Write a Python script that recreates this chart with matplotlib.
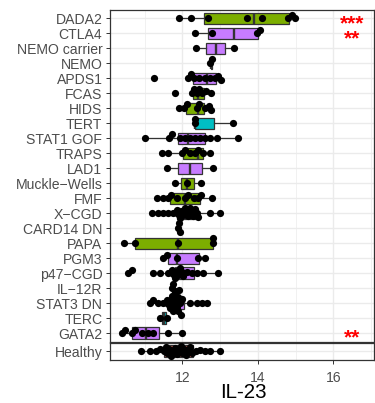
import numpy as np
import matplotlib.pyplot as plt

plt.rcParams['font.family'] = ['Liberation Sans', 'DejaVu Sans']

GREEN = "#7CAE00"
PURPLE = "#C77CFF"
CYAN = "#00BFC4"
RED = "#F8766D"

groups = ["DADA2", "CTLA4", "NEMO carrier", "NEMO", "APDS1", "FCAS", "HIDS",
          "TERT", "STAT1 GOF", "TRAPS", "LAD1", "Muckle\u2212Wells", "FMF",
          "X\u2212CGD", "CARD14 DN", "PAPA", "PGM3", "p47\u2212CGD", "IL\u221212R",
          "STAT3 DN", "TERC", "GATA2"]
group_colors = [GREEN, PURPLE, PURPLE, PURPLE, PURPLE, GREEN, GREEN,
                CYAN, PURPLE, GREEN, PURPLE, GREEN, GREEN,
                PURPLE, GREEN, GREEN, PURPLE, PURPLE, PURPLE,
                PURPLE, CYAN, PURPLE]

il23 = [
    [11.92, 12.23, 12.67, 13.70, 14.10, 14.81, 14.90, 14.98],
    [12.33, 12.79, 13.97, 14.06],
    [12.36, 13.37],
    [12.74, 12.78],
    [11.25, 12.15, 12.22, 12.30, 12.45, 12.60, 12.72, 12.85, 12.95, 13.01],
    [11.80, 12.24, 12.30, 12.38, 12.45, 12.52, 12.62, 12.75],
    [11.91, 12.05, 12.12, 12.38, 12.45, 12.60, 12.70, 12.76],
    [12.32, 12.34, 13.33],
    [11.00, 11.65, 11.71, 11.93, 12.07, 12.20, 12.33, 12.46, 12.60, 12.73, 12.91, 13.48],
    [11.45, 11.62, 11.98, 12.07, 12.20, 12.33, 12.42, 12.55, 12.73],
    [11.58, 12.82],
    [11.80, 12.11, 12.48],
    [11.32, 11.49, 11.62, 11.70, 11.85, 12.07, 12.15, 12.30, 12.42, 12.50, 12.79],
    [11.18, 11.36, 11.49, 11.62, 11.76, 11.85, 11.89, 11.93, 11.98, 12.02, 12.07,
     12.11, 12.15, 12.20, 12.24, 12.29, 12.33, 12.38, 12.42, 12.73, 13.00],
    [11.89, 11.91, 11.93],
    [10.45, 10.74, 11.89, 12.80, 12.82],
    [11.49, 11.58, 11.85, 12.42, 12.60],
    [10.56, 10.65, 11.23, 11.40, 11.62, 11.71, 11.76, 11.80, 11.85, 11.89, 11.93,
     11.98, 12.02, 12.11, 12.24, 12.38, 12.55, 12.95],
    [11.72, 11.76, 11.80],
    [11.14, 11.23, 11.36, 11.49, 11.58, 11.62, 11.67, 11.70, 11.71, 11.75, 11.76,
     11.80, 11.82, 11.85, 11.88, 11.89, 11.90, 11.93, 11.95, 11.98, 12.20, 12.38,
     12.51, 12.64],
    [11.40, 11.60],
    [10.39, 10.47, 10.65, 10.74, 10.92, 11.09, 11.23, 11.62, 11.98],
]
box_q1 = [12.58, 12.67, 12.62, 12.75, 12.29, 12.29, 12.10, 12.33, 11.89, 12.02, 11.89,
          11.96, 11.67, 11.85, 11.90, 10.74, 11.62, 11.80, 11.74, 11.65, 11.45, 10.65]
box_med = [13.90, 13.37, 12.88, 12.76, 12.64, 12.42, 12.40, 12.33, 12.15, 12.40, 12.20,
           12.11, 12.07, 12.10, 11.91, 11.89, 11.85, 11.98, 11.76, 11.85, 11.50, 11.03]
box_q3 = [14.83, 13.99, 13.13, 12.77, 12.89, 12.56, 12.58, 12.83, 12.60, 12.55, 12.51,
          12.30, 12.46, 12.35, 11.92, 12.80, 12.45, 12.30, 11.78, 12.05, 11.55, 11.38]

healthy = [10.90, 11.14, 11.30, 11.40, 11.50, 11.55, 11.60, 11.65, 11.70, 11.75,
           11.80, 11.85, 11.90, 11.95, 12.00, 12.05, 12.10, 12.15, 12.20, 12.25,
           12.35, 12.46, 12.60, 12.73, 13.00]
healthy_box = (11.52, 11.90, 12.27)

stars = {"DADA2": "***", "CTLA4": "**", "GATA2": "**"}

W, H = 375, 403
fig = plt.figure(figsize=(W / 100, H / 100), dpi=100)

def px_axes(x0, y0, x1, y1):
    return fig.add_axes([x0 / W, 1 - y1 / H, (x1 - x0) / W, (y1 - y0) / H])

ax = px_axes(110, 9.5, 374, 342)
axh = px_axes(110, 342.5, 374, 359.5)

XLIM = (10.077, 17.08)
n = len(groups)
ypos = np.arange(n)[::-1]


def box_stats(vals, q1, med, q3):
    v = np.asarray(vals)
    iqr = q3 - q1
    inside = v[(v >= q1 - 1.5 * iqr) & (v <= q3 + 1.5 * iqr)]
    return dict(q1=q1, med=med, q3=q3,
                whislo=min(inside.min(), q1), whishi=max(inside.max(), q3),
                fliers=[])


def swarm(vals, xpx, ypx, gap=4.2):
    # spread overlapping dots vertically, working in pixels
    vals = np.asarray(vals, float)
    offs = np.zeros(len(vals))
    placed = []
    for i in np.argsort(vals):
        x = vals[i] * xpx
        k = 0
        while True:
            cands = [0.0] if k == 0 else [k * 0.8, -k * 0.8]
            ok = None
            for c in cands:
                if all((x - px) ** 2 + (c - py) ** 2 >= gap ** 2 for px, py in placed):
                    ok = c
                    break
            if ok is not None:
                break
            k += 1
        placed.append((x, ok))
        offs[i] = ok / ypx
    return offs


def draw_panel(a, labels, colors, data, stats, ys, ylim, height_px, width):
    xpx = 264 / (XLIM[1] - XLIM[0])
    ypx = height_px / (ylim[1] - ylim[0])
    bp = a.bxp(stats, positions=ys, widths=width, orientation='horizontal',
               patch_artist=True, showcaps=False, showfliers=False,
               boxprops=dict(edgecolor="#333333", linewidth=0.9),
               whiskerprops=dict(color="#333333", linewidth=0.9),
               medianprops=dict(color="#333333", linewidth=1.7))
    for patch, c in zip(bp['boxes'], colors):
        patch.set_facecolor(c)
    for vals, y in zip(data, ys):
        offs = swarm(vals, xpx, ypx)
        a.scatter(vals, y + offs, s=27, color="black", linewidths=0, zorder=5)
    a.set_xlim(*XLIM)
    a.set_ylim(*ylim)
    a.set_yticks(ys)
    a.set_yticklabels(labels)
    a.set_xticks([12, 14, 16])
    a.set_xticks([11, 13, 15, 17], minor=True)
    a.grid(True, which='major', color="#EBEBEB", linewidth=1.0, zorder=0)
    a.grid(True, which='minor', axis='x', color="#EBEBEB", linewidth=0.5, zorder=0)
    a.set_axisbelow(True)
    a.tick_params(axis='both', which='major', length=3, width=0.7, color="#333333",
                  labelsize=10.1, labelcolor="#4D4D4D", pad=2.5)
    a.tick_params(axis='both', which='minor', length=0)
    for sp in a.spines.values():
        sp.set_color("#333333")
        sp.set_linewidth(0.9)


top_stats = [box_stats(v, q1, m, q3) for v, q1, m, q3 in zip(il23, box_q1, box_med, box_q3)]
draw_panel(ax, groups, group_colors, il23, top_stats, ypos, (-0.6, n - 0.4), 332.5, 0.75)
ax.tick_params(axis='x', which='both', bottom=False, labelbottom=False)

h_stats = [box_stats(healthy, *healthy_box)]
draw_panel(axh, ["Healthy"], [RED], [healthy], h_stats, [0], (-0.6, 0.6), 17, 0.85)
axh.tick_params(axis='x', labelsize=10.1, pad=5.2)

# significance marks, baseline set below the row so the asterisks sit on it
for label, txt in stars.items():
    y = ypos[groups.index(label)]
    ax.text(16.5, y - 0.72, txt, color="red", fontsize=15, ha='center', va='baseline',
            fontweight='bold', zorder=6)

fig.text(243 / W, 0.5 / H, "IL-23", ha='center', va='bottom', fontsize=14.8)

fig.savefig("out.png", dpi=100)
